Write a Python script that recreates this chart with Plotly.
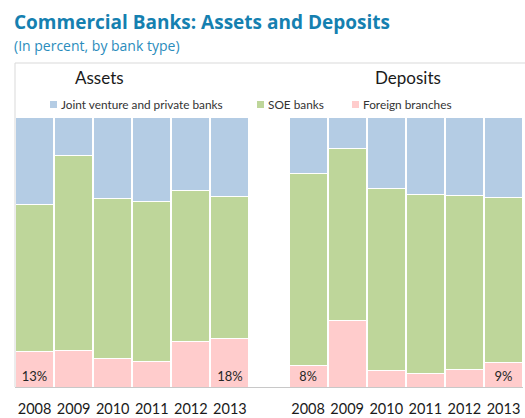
import plotly.graph_objects as go

# Shares by bank type, percent of total
years = ["2008", "2009", "2010", "2011", "2012", "2013"]
series_names = ["Joint venture and private banks", "SOE banks", "Foreign branches"]
series_colors = ["#b4cce4", "#bed69a", "#ffcccc"]

assets_foreign = [13, 13.7, 10.6, 9.6, 16.9, 18]
assets_soe = [54.7, 72.0, 59.3, 59.0, 55.7, 52.5]
assets_jv = [32.3, 14.3, 30.1, 31.4, 27.4, 29.5]

deposits_foreign = [8, 24.8, 6.0, 5.1, 6.6, 9]
deposits_soe = [70.9, 63.6, 67.6, 66.3, 64.3, 61.1]
deposits_jv = [21.1, 11.6, 26.4, 28.6, 29.1, 29.9]

panel_titles = ["Assets", "Deposits"]

W, H = 525, 418
ML, MR, MT, MB = 15, 2, 117, 31
PW, PH = W - ML - MR, H - MT - MB


def xp(px):
    return (px - ML) / PW


def yp(py):
    return (H - MB - py) / PH


n = len(years)
x_assets = list(range(n))
x_deposits = [n + 1 + i for i in range(n)]


def end_labels(vals):
    return [f"{v:.0f}%" if i in (0, len(vals) - 1) else "" for i, v in enumerate(vals)]


fig = go.Figure()
stack = [
    (assets_foreign, deposits_foreign, 2, True),
    (assets_soe, deposits_soe, 1, False),
    (assets_jv, deposits_jv, 0, False),
]
for a_vals, d_vals, k, labelled in stack:
    fig.add_trace(go.Bar(
        x=x_assets + x_deposits,
        y=a_vals + d_vals,
        name=series_names[k],
        marker=dict(color=series_colors[k], line=dict(color="white", width=1)),
        text=(end_labels(a_vals) + end_labels(d_vals)) if labelled else None,
        textposition="inside" if labelled else "none",
        insidetextanchor="start",
        textangle=0,
        textfont=dict(family="Lato", size=13, color="#262626"),
        hoverinfo="skip",
        showlegend=False,
    ))

shapes = [
    # frame: left and top edges
    dict(type="line", xref="paper", yref="paper", x0=xp(15), x1=xp(15), y0=yp(63), y1=yp(387),
         line=dict(color="#d9d9d9", width=1)),
    dict(type="line", xref="paper", yref="paper", x0=xp(15), x1=xp(530), y0=yp(63), y1=yp(63),
         line=dict(color="#d9d9d9", width=1)),
]
annotations = [
    dict(text="<b>Commercial Banks: Assets and Deposits</b>", xref="paper", yref="paper",
         x=xp(12), y=yp(22), xanchor="left", yanchor="middle", showarrow=False,
         font=dict(family="Open Sans", size=19, color="#1580b0")),
    dict(text="(In percent, by bank type)", xref="paper", yref="paper",
         x=xp(12), y=yp(45), xanchor="left", yanchor="middle", showarrow=False,
         font=dict(family="Open Sans", size=14, color="#2a8cbc")),
]
for title, cx in zip(panel_titles, [99, 408]):
    annotations.append(dict(text=title, xref="paper", yref="paper", x=xp(cx), y=yp(77),
                            xanchor="center", yanchor="middle", showarrow=False,
                            font=dict(family="Lato", size=17, color="#1a1a1a")))

# legend row
legend_pos = [50, 257, 352]
for k, lx in enumerate(legend_pos):
    shapes.append(dict(type="rect", xref="paper", yref="paper", x0=xp(lx), x1=xp(lx + 7),
                       y0=yp(108), y1=yp(101), fillcolor=series_colors[k], line=dict(width=0)))
    annotations.append(dict(text=series_names[k], xref="paper", yref="paper", x=xp(lx + 9),
                            y=yp(104.5), xanchor="left", yanchor="middle", showarrow=False,
                            font=dict(family="Lato", size=11.8, color="#333333")))

fig.update_layout(
    barmode="stack",
    bargap=0.03,
    width=W, height=H,
    margin=dict(l=ML, r=MR, t=MT, b=MB),
    paper_bgcolor="white", plot_bgcolor="white",
    shapes=shapes,
    annotations=annotations,
)
fig.update_xaxes(
    range=[-0.5, 2 * n + 0.5],
    tickvals=x_assets + x_deposits,
    ticktext=years + years,
    ticks="outside", ticklen=9, tickcolor="rgba(0,0,0,0)",
    showline=True, linecolor="#c8c8c8", linewidth=1,
    showgrid=False, zeroline=False,
    tickfont=dict(family="Lato", size=14.5, color="#1a1a1a"),
)
fig.update_yaxes(range=[0, 100], visible=False)

fig.write_html("out.html")
